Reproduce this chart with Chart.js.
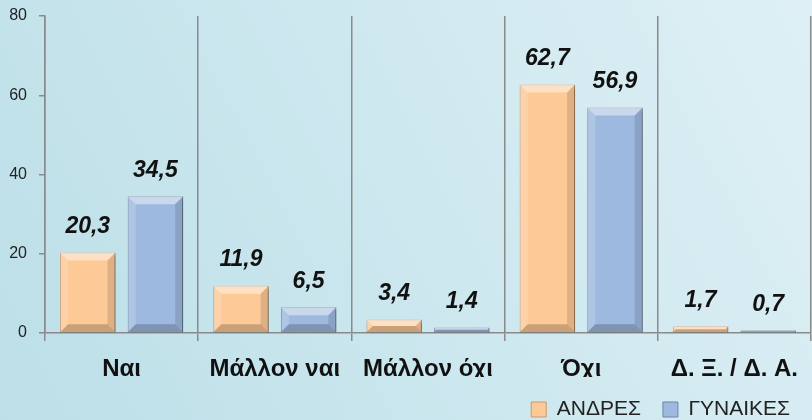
<!DOCTYPE html>
<html>
<head>
<meta charset="utf-8">
<script src="https://cdn.jsdelivr.net/npm/chart.js@4"></script>
<style>
  html, body { margin:0; padding:0; }
  #wrap { width:812px; height:420px; position:relative; }
</style>
</head>
<body>
<div id="wrap"><canvas id="chartCanvas"></canvas></div>
<script>
const categories = ['Ναι', 'Μάλλον ναι', 'Μάλλον όχι', 'Όχι', 'Δ. Ξ. / Δ. Α.'];
const andres = [20.3, 11.9, 3.4, 62.7, 1.7];
const gynaikes = [34.5, 6.5, 1.4, 56.9, 0.7];
const yTicks = [0, 20, 40, 60, 80];

const fontFamily = '"Liberation Sans", Arial, sans-serif';

// light cyan background, darker at bottom-left
const bgPlugin = {
  id: 'bg',
  beforeDraw(chart){
    const {ctx, width, height} = chart;
    const g = ctx.createLinearGradient(0, height, width, 0);
    g.addColorStop(0, '#bcdfe8');
    g.addColorStop(1, '#def0f5');
    ctx.save();
    ctx.fillStyle = g;
    ctx.fillRect(0, 0, width, height);
    ctx.restore();
  }
};

// soft drop shadow under the bars
const shadowPlugin = {
  id: 'barShadow',
  beforeDatasetsDraw(chart){
    const ctx = chart.ctx;
    ctx.save();
    ctx.shadowColor = 'rgba(0,0,0,0.35)';
    ctx.shadowBlur = 4;
    ctx.shadowOffsetX = 2;
    ctx.shadowOffsetY = 2;
  },
  afterDatasetsDraw(chart){
    chart.ctx.restore();
  }
};

// bevel look + value labels above each bar
const bevelPlugin = {
  id: 'bevel',
  afterDatasetsDraw(chart){
    const ctx = chart.ctx;
    chart.data.datasets.forEach((ds, di) => {
      chart.getDatasetMeta(di).data.forEach((bar, i) => {
        const l = bar.x - bar.width/2, r = bar.x + bar.width/2;
        const t = bar.y, b = bar.base;
        const h = b - t;
        const d = Math.min(8, h/2, bar.width/2);
        ctx.save();
        // top
        ctx.fillStyle = 'rgba(255,255,255,0.45)';
        ctx.beginPath();
        ctx.moveTo(l, t); ctx.lineTo(r, t); ctx.lineTo(r-d, t+d); ctx.lineTo(l+d, t+d);
        ctx.fill();
        // left
        ctx.fillStyle = 'rgba(255,255,255,0.18)';
        ctx.beginPath();
        ctx.moveTo(l, t); ctx.lineTo(l+d, t+d); ctx.lineTo(l+d, b-d); ctx.lineTo(l, b);
        ctx.fill();
        // right
        ctx.fillStyle = 'rgba(0,0,0,0.12)';
        ctx.beginPath();
        ctx.moveTo(r, t); ctx.lineTo(r-d, t+d); ctx.lineTo(r-d, b-d); ctx.lineTo(r, b);
        ctx.fill();
        // bottom
        ctx.fillStyle = 'rgba(0,0,0,0.2)';
        ctx.beginPath();
        ctx.moveTo(l, b); ctx.lineTo(r, b); ctx.lineTo(r-d, b-d); ctx.lineTo(l+d, b-d);
        ctx.fill();
        ctx.restore();

        // value label
        ctx.save();
        ctx.font = 'italic bold 23px ' + fontFamily;
        ctx.fillStyle = '#111';
        ctx.textAlign = 'center';
        ctx.textBaseline = 'middle';
        ctx.fillText(ds.data[i].toFixed(1).replace('.', ','), bar.x, t - 26);
        ctx.restore();
      });
    });
  }
};

const ctx = document.getElementById('chartCanvas').getContext('2d');
new Chart(ctx, {
  type: 'bar',
  data: {
    labels: categories,
    datasets: [
      { label: 'ΑΝΔΡΕΣ', data: andres, backgroundColor: '#fdc996', borderColor: '#c99a6a', borderWidth: 1 },
      { label: 'ΓΥΝΑΙΚΕΣ', data: gynaikes, backgroundColor: '#9eb9df', borderColor: '#6d84ab', borderWidth: 1 }
    ]
  },
  plugins: [bgPlugin, shadowPlugin, bevelPlugin],
  options: {
    responsive: true,
    maintainAspectRatio: false,
    animation: false,
    layout: { padding: { left: 0, right: 0, top: 16, bottom: -10 } },
    datasets: { bar: { categoryPercentage: 0.883, barPercentage: 0.82 } },
    plugins: {
      tooltip: { enabled: false },
      legend: {
        position: 'bottom',
        align: 'end',
        labels: {
          boxWidth: 15, boxHeight: 15, padding: 22,
          color: '#222',
          font: { family: fontFamily, size: 21 }
        }
      }
    },
    scales: {
      x: {
        offset: true,
        afterFit(scale){ scale.height = 44; },
        grid: { offset: true, color: '#8a8a8a', lineWidth: 1.5, tickLength: 8, drawOnChartArea: true },
        border: { color: '#8a8a8a', width: 1.5 },
        ticks: { color: '#111', padding: 14, font: { family: fontFamily, size: 24, weight: 'bold' } }
      },
      y: {
        min: 0, max: 80,
        afterBuildTicks(scale){ scale.ticks = yTicks.map(v => ({ value: v })); },
        afterFit(scale){
          scale.width = 45;
          scale.paddingTop = 0;
          scale.paddingBottom = 0;
        },
        grid: { drawOnChartArea: false, drawTicks: true, tickLength: 6, tickColor: '#8a8a8a', lineWidth: 1.5 },
        border: { color: '#8a8a8a', width: 1.5 },
        ticks: { color: '#222', padding: 12, font: { family: fontFamily, size: 16 } }
      }
    }
  }
});
</script>
</body>
</html>
